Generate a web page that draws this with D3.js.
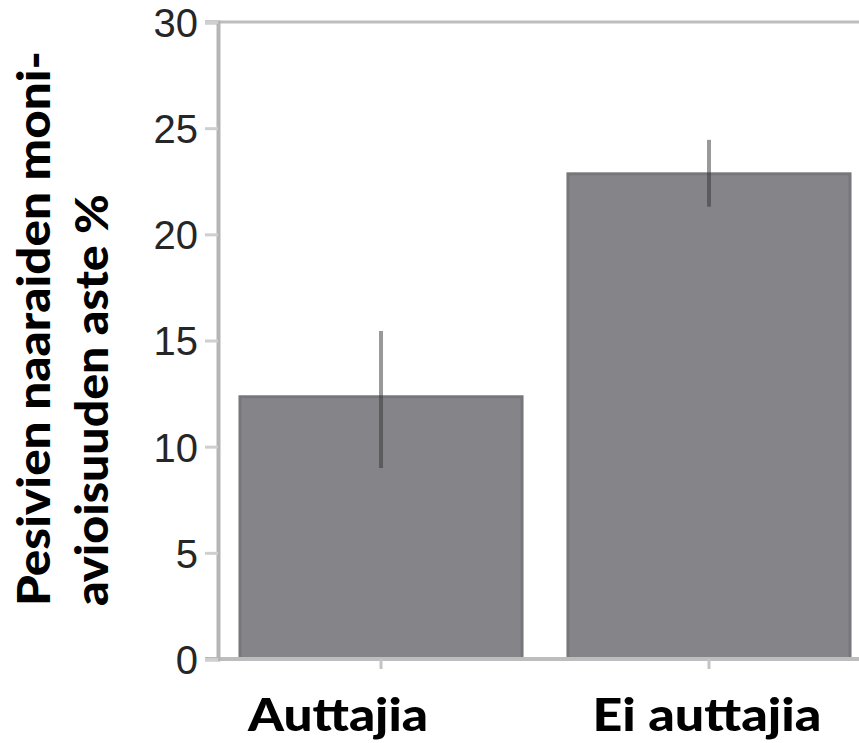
<!DOCTYPE html>
<html>
<head>
<meta charset="utf-8">
<script src="https://cdn.jsdelivr.net/npm/d3@7/dist/d3.min.js"></script>
<style>
  html, body { margin: 0; padding: 0; background: #fff; }
  svg { display: block; }
</style>
</head>
<body>
<svg id="chart" width="859" height="743"></svg>
<script>
// Bar chart: share of multiple paternity in broods, with / without helpers
const categories = ["Auttajia", "Ei auttajia"];
const values = [12.35, 22.85];
const errLow = [9.0, 21.3];
const errHigh = [15.45, 24.45];
const yTicks = [0, 5, 10, 15, 20, 25, 30];
const titleLines = ["Pesivien naaraiden moni-", "avioisuuden aste %"];

const svg = d3.select("#chart");
const W = 859, H = 743;

const y = d3.scaleLinear().domain([0, 30]).range([659, 22]);
const x = d3.scaleBand().domain(categories).range([218, 872])
  .paddingInner(0.14).paddingOuter(0.067);

const data = categories.map((c, i) => ({ c, v: values[i], lo: errLow[i], hi: errHigh[i] }));

// top frame line
svg.append("line").attr("x1", 205).attr("x2", W).attr("y1", y(30)).attr("y2", y(30))
  .attr("stroke", "#bdbdbd").attr("stroke-width", 3);

// bars
svg.append("g").selectAll("rect").data(data).join("rect")
  .attr("x", d => x(d.c))
  .attr("width", x.bandwidth())
  .attr("y", d => y(d.v))
  .attr("height", d => y(0) - y(d.v))
  .attr("fill", "#858589")
  .attr("stroke", "#77777b")
  .attr("stroke-width", 3);

// error bars
svg.append("g").selectAll("line").data(data).join("line")
  .attr("x1", d => x(d.c) + x.bandwidth() / 2)
  .attr("x2", d => x(d.c) + x.bandwidth() / 2)
  .attr("y1", d => y(d.hi))
  .attr("y2", d => y(d.lo))
  .attr("stroke", "#333")
  .attr("stroke-opacity", 0.5)
  .attr("stroke-width", 4);

// baseline
svg.append("line").attr("x1", 205).attr("x2", W).attr("y1", y(0)).attr("y2", y(0))
  .attr("stroke", "#bdbdbd").attr("stroke-width", 4);

// x tick marks below baseline
svg.append("g").selectAll("line").data(categories).join("line")
  .attr("x1", d => x(d) + x.bandwidth() / 2)
  .attr("x2", d => x(d) + x.bandwidth() / 2)
  .attr("y1", y(0)).attr("y2", y(0) + 10)
  .attr("stroke", "#c4c4c4").attr("stroke-width", 3);

// y axis
const yAxis = d3.axisLeft(y).tickValues(yTicks).tickSize(13).tickPadding(7).tickFormat(d3.format("d"));
const ga = svg.append("g").attr("transform", "translate(218,0)").call(yAxis);
ga.select(".domain").attr("stroke", "#b5b5b5").attr("stroke-width", 4);
ga.selectAll(".tick line").attr("stroke", "#cfcfcf").attr("stroke-width", 3);
ga.selectAll(".tick text")
  .attr("font-family", "'Liberation Sans', Arial, sans-serif")
  .attr("font-size", 40)
  .attr("fill", "#262626")
  .attr("dy", "0.36em");

// x category labels
const labelShift = [-43, -2];
const labelLen = [180, 229];
svg.append("g").selectAll("text").data(categories).join("text")
  .attr("x", (d, i) => x(d) + x.bandwidth() / 2 + labelShift[i])
  .attr("y", 731)
  .attr("text-anchor", "middle")
  .attr("font-family", "Lato, 'Open Sans', sans-serif")
  .attr("font-weight", 900)
  .attr("font-size", 46)
  .attr("textLength", (d, i) => labelLen[i])
  .attr("lengthAdjust", "spacingAndGlyphs")
  .attr("fill", "#000")
  .text(d => d);

// y title, two rotated lines
const titleLen = [555, 412];
const tg = svg.append("g").attr("transform", "translate(0,606) rotate(-90)");
tg.selectAll("text").data(titleLines).join("text")
  .attr("x", 0)
  .attr("y", (d, i) => 50 + i * 58)
  .attr("font-family", "Lato, 'Open Sans', sans-serif")
  .attr("font-weight", 900)
  .attr("font-size", 45)
  .attr("textLength", (d, i) => titleLen[i])
  .attr("lengthAdjust", "spacingAndGlyphs")
  .attr("fill", "#000")
  .text(d => d);
</script>
</body>
</html>
